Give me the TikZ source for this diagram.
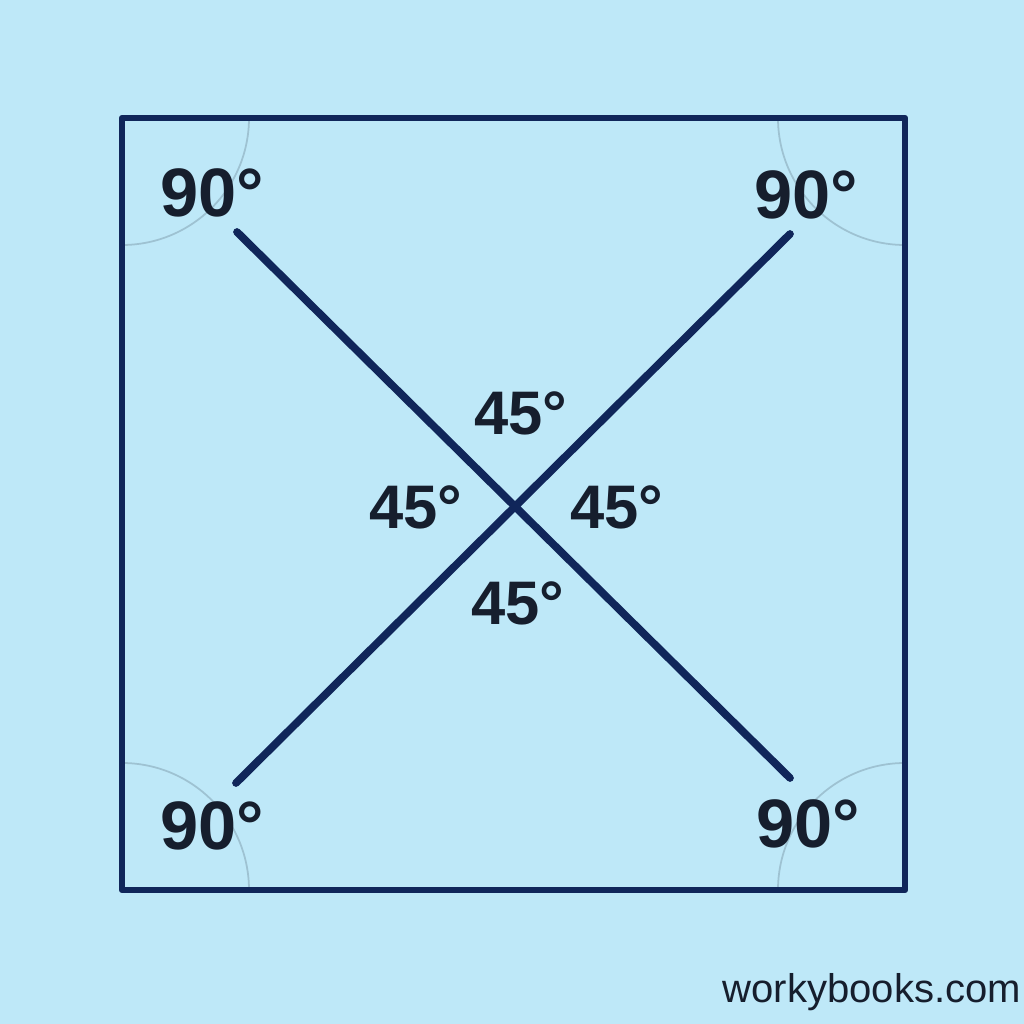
\documentclass[tikz,border=0pt]{standalone}
\usepackage{fontspec}
\setmainfont{Liberation Sans}
\usepackage{tikz}
\usetikzlibrary{positioning}

\definecolor{sfondo}{RGB}{190,232,248}
\definecolor{blu}{RGB}{16,38,90}
\definecolor{testo}{RGB}{22,30,45}
\definecolor{arco}{RGB}{158,194,210}

\begin{document}
\begin{tikzpicture}[every node/.style={text=testo, inner sep=0pt},
    grande/.style={font=\fontsize{19.5}{22}\selectfont\bfseries},
    medio/.style={font=\fontsize{17.5}{20}\selectfont\bfseries}]
      % Sfondo
      \fill[sfondo] (0,0) rectangle (10.24,10.24);
      \useasboundingbox (0,0) rectangle (10.24,10.24);

      % Vertici del quadrato
      \coordinate (A) at (1.22,9.06);
      \coordinate (B) at (9.05,9.06);
      \coordinate (C) at (9.05,1.34);
      \coordinate (D) at (1.22,1.34);

      % Estremi delle diagonali
      \coordinate (P) at (2.37,7.92);
      \coordinate (Q) at (7.90,2.46);
      \coordinate (R) at (2.36,2.41);
      \coordinate (S) at (7.90,7.90);

      % Archi agli angoli
      \draw[arco, line width=0.5pt] (A) ++(0,-1.27) arc[start angle=-90, end angle=0, radius=1.27];
      \draw[arco, line width=0.5pt] (B) ++(-1.27,0) arc[start angle=180, end angle=270, radius=1.27];
      \draw[arco, line width=0.5pt] (C) ++(-1.27,0) arc[start angle=180, end angle=90, radius=1.27];
      \draw[arco, line width=0.5pt] (D) ++(0,1.27) arc[start angle=90, end angle=0, radius=1.27];

      % Quadrato
      \draw[blu, line width=1.8pt, line join=round] (A) -- (B) -- (C) -- (D) -- cycle;

      % Diagonali
      \draw[blu, line width=2.2pt, line cap=round] (P) -- (Q);
      \draw[blu, line width=2.2pt, line cap=round] (R) -- (S);

      % Angoli retti
      \node[grande] (N1) at (2.12,8.31) {90°};
      \node[grande] (N2) at (8.06,8.29) {90°};
      \node[grande] (N3) at (2.12,1.98) {90°};
      \node[grande] (N4) at (8.08,2.00) {90°};

      % Angoli al centro
      \node[medio] (M1) at (5.21,6.11) {45°};
      \node[medio] (M2) at (4.16,5.17) {45°};
      \node[medio] (M3) at (6.17,5.17) {45°};
      \node[medio] (M4) at (5.18,4.21) {45°};

      % Sito
      \node[anchor=base west, font=\fontsize{11.4}{13}\selectfont] (W) at (7.22,0.21) {workybooks.com};
    \end{tikzpicture}
\end{document}
